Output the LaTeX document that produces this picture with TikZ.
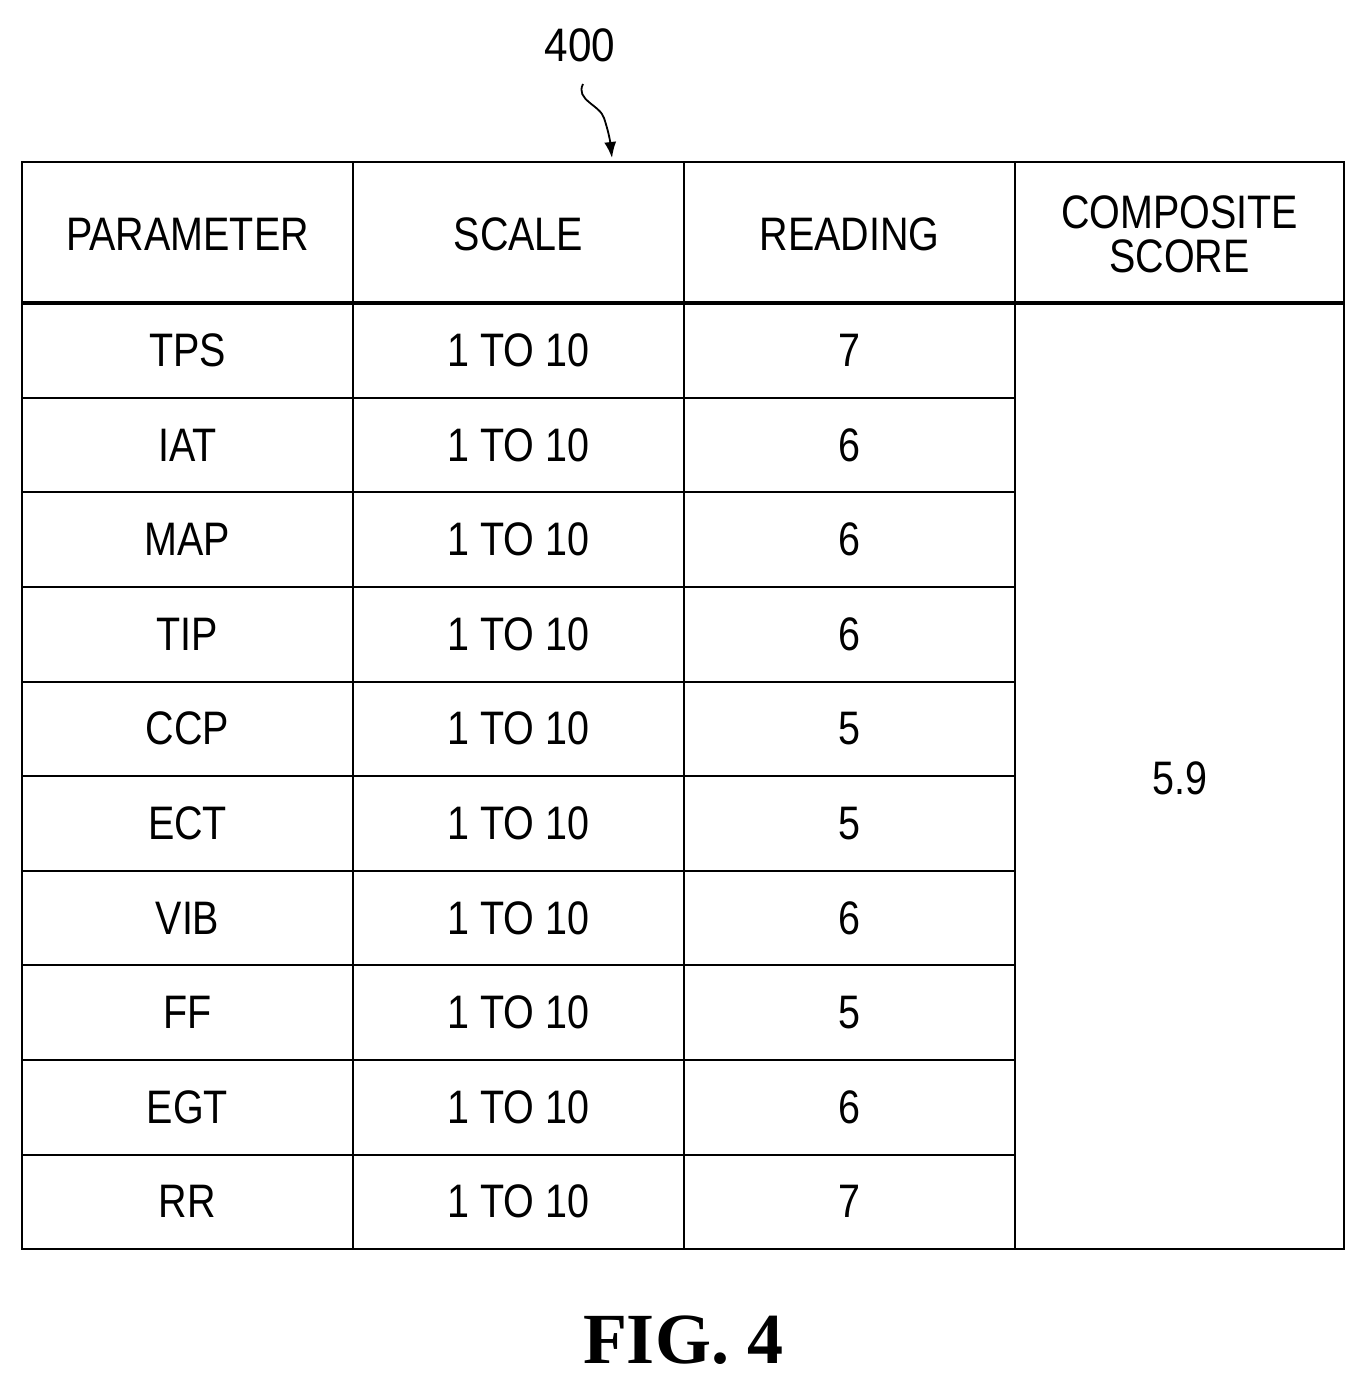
\documentclass[tikz,border=0pt]{standalone}
\usepackage{fontspec}
\setmainfont{Liberation Sans}
\newfontfamily\figfont{Liberation Serif}
\usetikzlibrary{arrows.meta}
\begin{document}
\begin{tikzpicture}[x=1pt,y=-1pt,
  cell/.style={font=\fontsize{47}{50}\selectfont, xscale=0.84, align=center},
  grid/.style={line width=2.5pt}]
\useasboundingbox (0,0) rectangle (1369,1388);
\fill[white] (0,0) rectangle (1369,1388);
\def\xs{{22,353,684,1015,1344}}
% outer + grid
\draw[grid] (22,162) rectangle (1344,1249);
\foreach \x in {353,684,1015} \draw[grid] (\x,162) -- (\x,1249);
\draw[line width=4pt] (22,303) -- (1344,303);
\foreach \y in {398,492,587,682,776,871,965,1060,1155} \draw[grid] (22,\y) -- (1015,\y);
% header
\node[cell] (h1) at (187.5,234) {PARAMETER};
\node[cell] (h2) at (518.5,234) {SCALE};
\node[cell] (h3) at (849.5,234) {READING};
\node[cell] (h4) at (1179.5,234) {COMPOSITE\\[-6pt]SCORE};
\foreach \p/\r [count=\i] in {TPS/7,IAT/6,MAP/6,TIP/6,CCP/5,ECT/5,VIB/6,FF/5,EGT/6,RR/7}{
  \pgfmathsetmacro{\yy}{303+(\i-0.5)*94.6}
  \node[cell] (p\i) at (187.5,\yy) {\p};
  \node[cell] (s\i) at (518.5,\yy) {1 TO 10};
  \node[cell] (r\i) at (849.5,\yy) {\r};
}
\node[cell] (cs) at (1179.5,778) {5.9};
\node[font=\fontsize{47}{50}\selectfont, xscale=0.9] (lbl) at (580,45) {400};
\coordinate (tip) at (612,158);
\draw[line width=1.8pt,-{Latex[length=16pt,width=12pt]}] (583,84) .. controls (575,100) and (600,105) .. (604,118) .. controls (608,130) and (610,140) .. (tip);
\node[font=\figfont\bfseries\fontsize{72}{76}\selectfont] (fig) at (683,1340) {FIG. 4};
\end{tikzpicture}
\end{document}
